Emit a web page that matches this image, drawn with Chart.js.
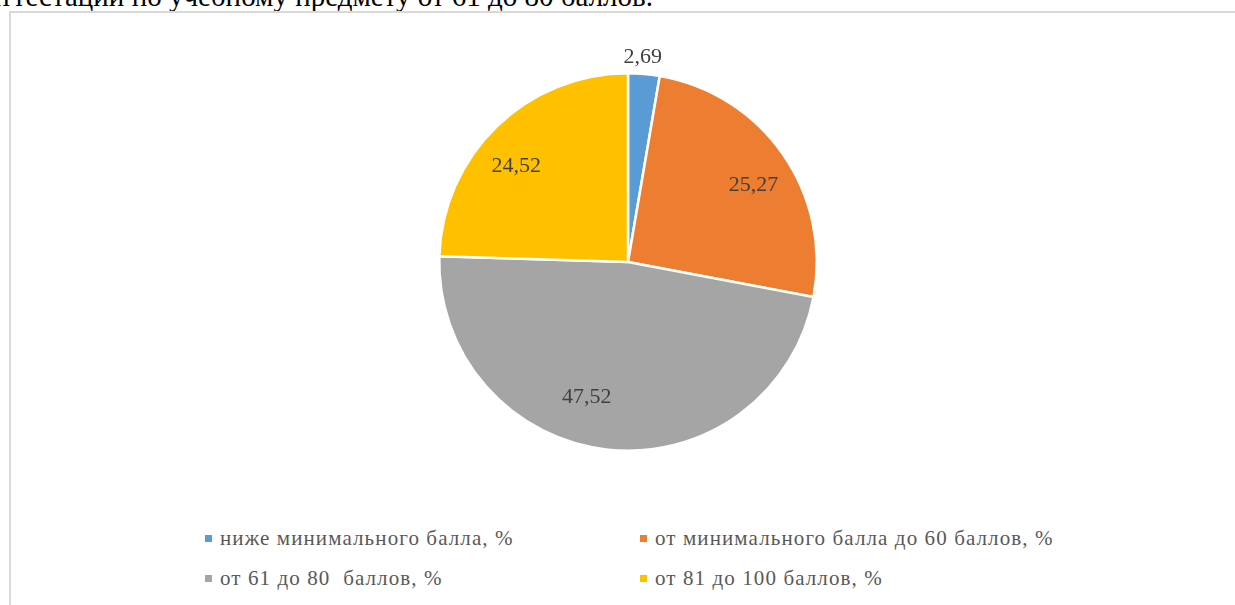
<!DOCTYPE html>
<html lang="ru">

<head>
  <meta charset="UTF-8">
  <meta name="viewport" content="width=device-width, initial-scale=1.0">
  <title>Pie</title>
  <script src="https://cdn.jsdelivr.net/npm/chart.js"></script>
</head>
<style>
  body {
    margin: 0;
    background: #fff;
    overflow: hidden;
    width: 1235px;
    height: 605px;
    position: relative;
    font-family: "Liberation Serif", "DejaVu Serif", serif;
  }
  #encabezado {
    position: absolute;
    left: -12px;
    top: -18px;
    font-size: 29px;
    line-height: 28px;
    color: #000;
    white-space: nowrap;
  }
  #marco {
    position: absolute;
    left: 9px;
    top: 11px;
    width: 1250px;
    height: 620px;
    border: 2px solid #d9d9d9;
    box-sizing: border-box;
  }
  #contenedorGrafico {
    position: absolute;
    left: 238px;
    top: 32px;
    width: 780px;
    height: 460px;
  }
  .itemLeyenda {
    position: absolute;
    font-size: 21px;
    letter-spacing: 1.1px;
    color: #595959;
    white-space: pre;
    line-height: 21px;
  }
  .itemLeyenda span.marca {
    position: absolute;
    width: 7px;
    height: 7px;
    left: -15px;
    top: 7px;
  }
</style>

<body>
  <div id="encabezado">аттестации по учебному предмету от 61 до 80 баллов.</div>
  <div id="marco"></div>
  <div id="contenedorGrafico"><canvas id="graficoCircular"></canvas></div>
  <div id="leyenda"></div>
</body>
<script>
  // datos del grafico
  const categorias = [
    'ниже минимального балла, %',
    'от минимального балла до 60 баллов, %',
    'от 61 до 80  баллов, %',
    'от 81 до 100 баллов, %'
  ];
  const valores = [2.69, 25.27, 47.52, 24.52];
  const colores = ['#5B9BD5', '#ED7D31', '#A5A5A5', '#FFC000'];

  // posicion de las etiquetas (fraccion del radio, ajuste de angulo en grados)
  const radioEtiqueta = [1.09, 0.78, 0.75, 0.78];
  const ajusteAngulo = [-0.7, 3.4, 10.7, -5.2];

  const etiquetasPlugin = {
    id: 'etiquetas',
    afterDatasetsDraw(chart) {
      const ctx = chart.ctx;
      const meta = chart.getDatasetMeta(0);
      ctx.save();
      ctx.font = '22px "Liberation Serif", "DejaVu Serif", serif';
      ctx.fillStyle = '#404040';
      ctx.textAlign = 'center';
      ctx.textBaseline = 'middle';
      meta.data.forEach((arc, i) => {
        const p = arc.getProps(['x', 'y', 'startAngle', 'endAngle', 'outerRadius'], true);
        const medio = (p.startAngle + p.endAngle) / 2 + ajusteAngulo[i] * Math.PI / 180;
        const r = p.outerRadius * radioEtiqueta[i];
        const texto = valores[i].toFixed(2).replace('.', ',');
        ctx.fillText(texto, p.x + Math.cos(medio) * r, p.y + Math.sin(medio) * r);
      });
      ctx.restore();
    }
  };

  const ctx = document.getElementById('graficoCircular').getContext('2d');
  const chart = new Chart(ctx, {
    type: 'pie',
    data: {
      labels: categorias,
      datasets: [{
        data: valores,
        backgroundColor: colores,
        borderColor: '#ffffff',
        borderWidth: 2.5
      }]
    },
    options: {
      responsive: true,
      maintainAspectRatio: false,
      animation: false,
      layout: { padding: { top: 40, bottom: 40 } },
      plugins: {
        legend: { display: false },
        tooltip: { enabled: false }
      }
    },
    plugins: [etiquetasPlugin]
  });

  // leyenda en dos columnas
  const posLeyenda = [[220, 528], [655, 528], [220, 568], [655, 568]];
  const leyenda = document.getElementById('leyenda');
  categorias.forEach((cat, i) => {
    const item = document.createElement('div');
    item.className = 'itemLeyenda';
    item.style.left = posLeyenda[i][0] + 'px';
    item.style.top = posLeyenda[i][1] + 'px';
    item.innerHTML = '<span class="marca" style="background:' + colores[i] + '"></span>' + cat;
    leyenda.appendChild(item);
  });
</script>

</html>
